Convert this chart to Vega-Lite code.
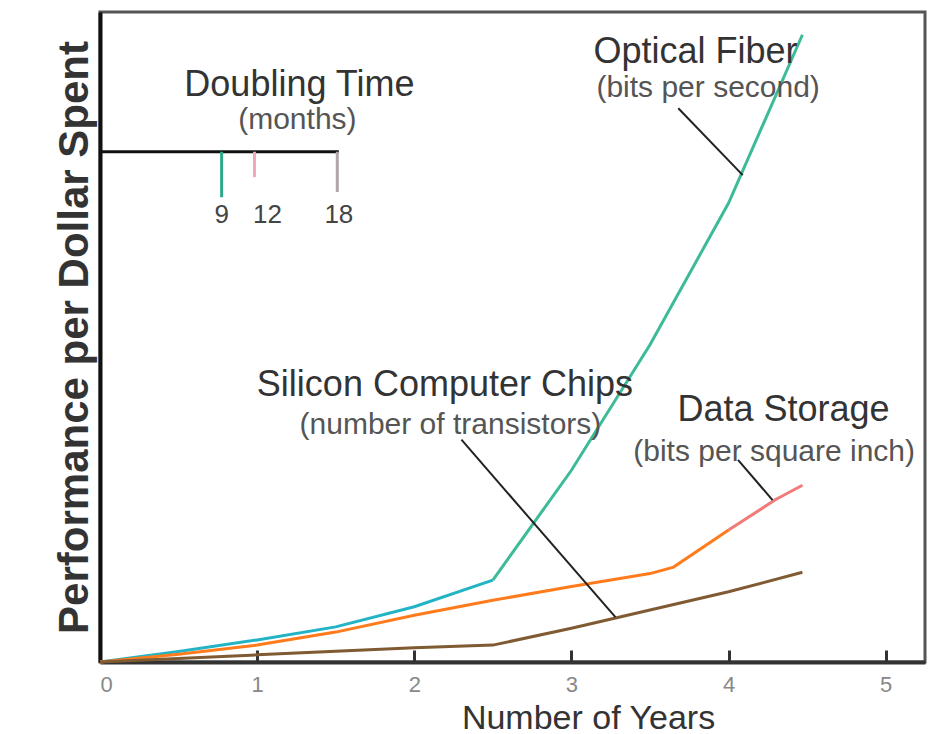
{
  "$schema": "https://vega.github.io/schema/vega-lite/v6.json",
  "width": 825,
  "height": 650,
  "autosize": {"type": "none"},
  "padding": {"left": 100, "top": 12, "right": 9, "bottom": 72},
  "background": "white",
  "config": {"view": {"stroke": "#555", "strokeWidth": 3}, "font": "Liberation Sans"},
  "datasets": {
    "lines": [
      {"series": "fiber_a", "x": 0, "y": 0},
      {"series": "fiber_a", "x": 0.5, "y": 1.6},
      {"series": "fiber_a", "x": 1, "y": 3.4},
      {"series": "fiber_a", "x": 1.5, "y": 5.4},
      {"series": "fiber_a", "x": 2, "y": 8.5},
      {"series": "fiber_a", "x": 2.5, "y": 12.6},
      {"series": "fiber_b", "x": 2.5, "y": 12.6},
      {"series": "fiber_b", "x": 3, "y": 29.5},
      {"series": "fiber_b", "x": 3.5, "y": 48.8},
      {"series": "fiber_b", "x": 4, "y": 70.6},
      {"series": "fiber_b", "x": 4.47, "y": 96.5},
      {"series": "storage_a", "x": 0, "y": 0},
      {"series": "storage_a", "x": 0.5, "y": 1.2},
      {"series": "storage_a", "x": 1, "y": 2.6},
      {"series": "storage_a", "x": 1.5, "y": 4.6},
      {"series": "storage_a", "x": 2, "y": 7.2},
      {"series": "storage_a", "x": 2.5, "y": 9.5},
      {"series": "storage_a", "x": 3, "y": 11.6},
      {"series": "storage_a", "x": 3.5, "y": 13.6},
      {"series": "storage_a", "x": 3.65, "y": 14.6},
      {"series": "storage_a", "x": 4, "y": 20.3},
      {"series": "storage_b", "x": 4, "y": 20.3},
      {"series": "storage_b", "x": 4.3, "y": 25},
      {"series": "storage_b", "x": 4.47, "y": 27.2},
      {"series": "silicon", "x": 0, "y": 0},
      {"series": "silicon", "x": 1, "y": 1.1},
      {"series": "silicon", "x": 2, "y": 2.2},
      {"series": "silicon", "x": 2.5, "y": 2.6},
      {"series": "silicon", "x": 3, "y": 5.2},
      {"series": "silicon", "x": 3.5, "y": 8},
      {"series": "silicon", "x": 4, "y": 10.8},
      {"series": "silicon", "x": 4.47, "y": 13.8}
    ],
    "pointers": [
      {"series": "pointer", "x": 3.68, "y": 85.2, "x2": 4.09, "y2": 74.9},
      {"series": "pointer", "x": 2.3, "y": 34.2, "x2": 3.28, "y2": 6.9},
      {"series": "pointer", "x": 4.06, "y": 31.1, "x2": 4.28, "y2": 24.9}
    ],
    "bracket": [
      {"series": "bracket", "x": 0, "y": 78.5, "x2": 1.52, "y2": 78.5},
      {"series": "leg9", "x": 0.774, "y": 78.5, "x2": 0.774, "y2": 71.5},
      {"series": "leg12", "x": 0.983, "y": 78.5, "x2": 0.983, "y2": 74.6},
      {"series": "leg18", "x": 1.51, "y": 78.5, "x2": 1.51, "y2": 72.3}
    ],
    "numbers": [
      {"label": "9", "x": 0.774, "y": 68.8},
      {"label": "12", "x": 1.066, "y": 68.8},
      {"label": "18", "x": 1.52, "y": 68.8}
    ],
    "mainLabels": [
      {"label": "Doubling Time", "x": 1.269, "y": 88.8},
      {"label": "Optical Fiber", "x": 3.79, "y": 93.8},
      {"label": "Silicon Computer Chips", "x": 2.195, "y": 42.6},
      {"label": "Data Storage", "x": 4.35, "y": 38.8}
    ],
    "subLabels": [
      {"label": "(months)", "x": 1.256, "y": 83.4},
      {"label": "(bits per second)", "x": 3.87, "y": 88.3},
      {"label": "(number of transistors)", "x": 2.23, "y": 36.5},
      {"label": "(bits per square inch)", "x": 4.29, "y": 32.3}
    ]
  },
  "encoding": {
    "x": {
      "field": "x", "type": "quantitative",
      "scale": {"domain": [0, 5.25], "nice": false, "zero": false},
      "axis": {
        "title": "Number of Years", "values": [0, 1, 2, 3, 4, 5], "format": "d", "grid": false,
        "domainColor": "#333", "domainWidth": 4, "tickColor": "#333", "tickWidth": 3, "tickSize": -12,
        "labelFontSize": 22, "labelColor": "#888", "labelPadding": 24, "labelFont": "Liberation Sans",
        "titleFontSize": 34, "titleFont": "Liberation Sans", "titleColor": "#333", "titleFontWeight": "normal",
        "titleX": 488, "titleY": 66, "titleBaseline": "alphabetic", "titleAlign": "center"
      }
    },
    "y": {
      "field": "y", "type": "quantitative",
      "scale": {"domain": [0, 100], "nice": false},
      "axis": {
        "title": "Performance per Dollar Spent", "labels": false, "ticks": false, "grid": false,
        "domainColor": "#111", "domainWidth": 4,
        "titleFontSize": 42, "titleFontWeight": "bold", "titleColor": "#333", "titlePadding": 4
      }
    }
  },
  "layer": [
    {
      "data": {"name": "bracket"},
      "mark": {"type": "rule", "strokeWidth": 3},
      "encoding": {
        "x2": {"field": "x2"}, "y2": {"field": "y2"},
        "color": {"field": "series", "type": "nominal", "legend": null}
      }
    },
    {
      "data": {"name": "lines"},
      "mark": {"type": "line", "strokeWidth": 3},
      "encoding": {
        "color": {
          "field": "series", "type": "nominal", "legend": null,
          "scale": {
            "domain": ["fiber_a", "fiber_b", "storage_a", "storage_b", "silicon", "pointer", "bracket", "leg9", "leg12", "leg18"],
            "range": ["#22b4c4", "#3dbb98", "#ff7b1c", "#f27a78", "#7f5a32", "#222222", "#111111", "#2fa88a", "#f0a8b8", "#b0a8a8"]
          }
        }
      }
    },
    {
      "data": {"name": "pointers"},
      "mark": {"type": "rule", "strokeWidth": 2},
      "encoding": {
        "x2": {"field": "x2"}, "y2": {"field": "y2"},
        "color": {"field": "series", "type": "nominal", "legend": null}
      }
    },
    {
      "data": {"name": "numbers"},
      "mark": {"type": "text", "align": "center", "baseline": "middle", "fontSize": 26, "font": "Liberation Sans", "color": "#444"},
      "encoding": {"text": {"field": "label"}}
    },
    {
      "data": {"name": "mainLabels"},
      "mark": {"type": "text", "align": "center", "baseline": "middle", "fontSize": 36, "color": "#333"},
      "encoding": {"text": {"field": "label"}}
    },
    {
      "data": {"name": "subLabels"},
      "mark": {"type": "text", "align": "center", "baseline": "middle", "fontSize": 30, "color": "#555"},
      "encoding": {"text": {"field": "label"}}
    }
  ]
}
